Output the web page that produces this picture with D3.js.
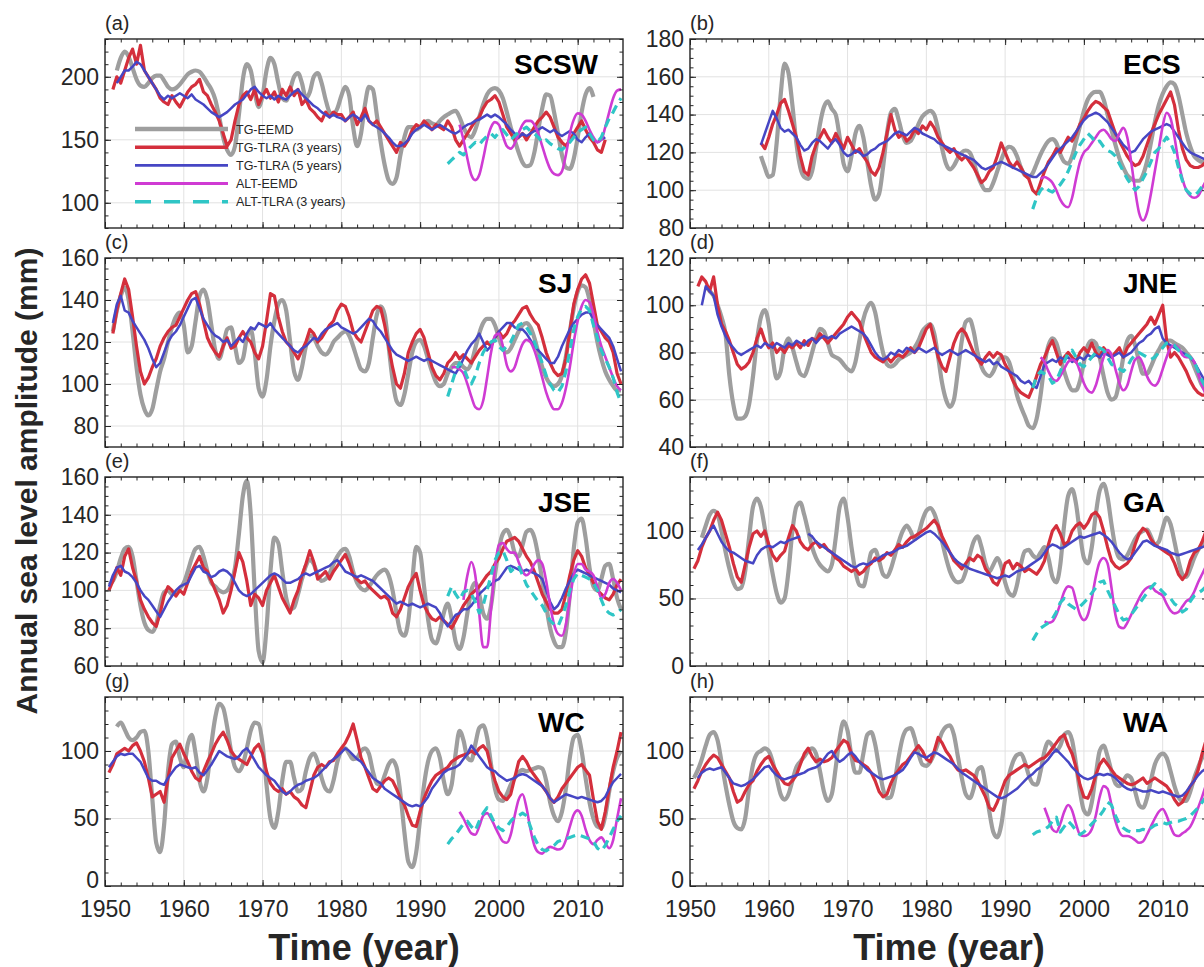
<!DOCTYPE html>
<html>
<head>
<meta charset="utf-8">
<script src="https://cdn.jsdelivr.net/npm/d3@7"></script>
<style>
  body { margin: 0; background: #fff; }
  svg { display: block; font-family: Arial, "Liberation Sans", Helvetica, sans-serif; }
</style>
</head>
<body>
<svg id="chart"></svg>
<script>
// ---- data (half-year steps) ----
var STEP = 0.5;
var regionNames = ['SCSW', 'ECS', 'SJ', 'JNE', 'JSE', 'GA', 'WC', 'WA'];
var panelTags = ['(a)', '(b)', '(c)', '(d)', '(e)', '(f)', '(g)', '(h)'];
var seriesNames = ['TG-EEMD', 'TG-TLRA (3 years)', 'TG-TLRA (5 years)', 'ALT-EEMD', 'ALT-TLRA (3 years)'];
var yearTicks = [1950, 1960, 1970, 1980, 1990, 2000, 2010];
var yDomains = [[80, 230], [80, 180], [70, 160], [40, 120], [60, 160], [0, 140], [0, 140], [0, 140]];
var yTickSets = [
  [100, 150, 200], [80, 100, 120, 140, 160, 180], [80, 100, 120, 140, 160], [40, 60, 80, 100, 120],
  [60, 80, 100, 120, 140, 160], [0, 50, 100], [0, 50, 100], [0, 50, 100]
];
var yMinorSteps = [10, 5, 5, 5, 5, 10, 10, 10];

// (a) SCSW
var scswStart = [1951.5, 1951, 1951.5, 1995, 1993.5];
var scswTgEemd = [
  205,215,220,216,207,198,193,192,195,199, 201,201,197,192,190,191,194,198,202,204,
  205,204,200,195,190,182,168,152,142,138, 145,170,198,210,205,188,176,185,205,215,
  210,195,183,181,190,200,203,195,183,188, 200,203,195,182,172,170,175,185,192,185,
  160,145,155,178,192,190,170,148,130,118, 115,120,138,152,160,160,158,160,163,165,
  163,162,165,168,170,172,173,168,160,154, 152,158,168,178,186,190,191,189,183,172,
  160,150,140,132,129,130,140,158,175,186, 185,172,155,138,128,127,135,152,172,186,
  191,184];
var scswTgTlra3 = [
  190,200,195,205,215,222,210,225,205,200, 195,190,183,180,178,185,180,176,182,188,
  192,194,198,188,185,178,172,165,155,145, 150,165,178,185,188,182,190,178,185,190,
  183,188,180,190,185,192,185,190,178,182, 175,172,168,165,172,168,172,170,170,165,
  168,172,162,168,175,165,162,165,160,155, 150,145,140,148,145,150,158,162,160,165,
  162,158,162,160,158,165,160,150,145,150, 155,160,165,168,175,180,182,185,180,170,
  160,155,150,152,155,150,155,160,165,168, 172,168,160,152,148,145,150,155,160,165,
  158,152,148,142,140,150];
var scswTgTlra5 = [
  195,200,205,205,208,212,210,205,200,195, 190,185,182,185,183,185,187,185,183,186,
  182,180,178,175,172,170,168,170,172,175, 178,180,182,186,190,192,188,185,183,185,
  182,185,183,182,185,188,190,186,183,180, 177,175,172,170,168,170,168,167,165,168,
  170,168,165,170,165,162,160,158,155,152, 148,145,145,147,150,155,158,160,162,160,
  158,160,162,160,158,156,155,157,160,162, 163,165,166,168,170,168,170,168,165,162,
  158,155,152,155,153,155,157,158,160,158, 156,158,155,153,155,157,155,150,148,152,
  155,150,148,150,152];
var scswAltEemd = [
  162,150,135,122,118,122,135,150,160,164, 162,153,145,143,147,155,162,165,165,162,
  155,145,135,127,123,122,125,138,155,166, 171,170,165,158,152,148,150,160,172,183,
  189,190];
var scswAltTlra3 = [
  131,134,137,140,138,142,145,148,146,150, 153,155,152,156,158,154,150,153,156,158,
  160,157,155,152,148,150,147,145,143,142, 145,148,152,156,158,160,155,150,148,152,
  160,167,172,178,183];

// (b) ECS
var ecsStart = [1959, 1959, 1959, 1994.5, 1993.5];
var ecsTgEemd = [
  118,112,107,108,125,150,167,162,145,125, 112,107,106,110,122,135,144,147,143,140,
  128,114,110,118,130,134,128,115,102,95, 98,112,130,141,143,137,129,125,126,130,
  135,139,141,142,140,132,122,114,111,113, 117,120,121,120,115,108,103,100,100,104,
  110,116,121,123,122,118,112,108,107,109, 114,119,123,126,127,125,119,115,114,118,
  126,134,142,148,151,152,152,148,140,132, 124,117,112,108,106,105,105,108,115,125,
  136,145,151,155,157,156,150,140,130,123, 118,116,115,116];
var ecsTgTlra3 = [
  125,122,128,135,140,146,148,142,135,128, 118,110,108,118,124,128,132,128,125,130,
  126,122,128,124,120,122,118,115,110,108, 112,120,130,140,132,128,130,126,128,132,
  130,134,132,136,133,128,125,122,120,122, 118,116,118,115,112,108,104,106,110,112,
  118,125,120,115,112,115,112,108,106,100, 98,104,110,115,118,122,120,124,128,126,
  130,135,138,142,145,147,146,144,142,136, 130,126,122,118,115,113,114,118,124,130,
  135,140,144,148,152,145,132,122,116,113, 112,112,113,115];
var ecsTgTlra5 = [
  124,130,136,142,138,133,131,132,130,128, 124,121,122,125,127,126,124,122,125,127,
  124,120,118,119,121,120,118,119,121,122, 124,125,126,128,130,131,130,129,131,133,
  132,130,129,128,127,125,124,123,122,121, 120,119,118,117,116,114,112,111,112,113,
  114,115,114,113,112,111,110,109,108,107, 107,109,111,114,117,120,122,124,126,128,
  131,134,137,139,140,141,140,138,136,133, 130,127,124,122,120,121,124,127,129,131,
  132,133,134,135,134,131,128,125,122,120, 119,118,117,116];
var ecsAltEemd = [
  106,107,106,104,100,95,92,91,96,106, 115,120,122,125,128,131,132,130,127,126,
  130,133,128,115,100,88,84,88,98,110, 122,134,141,138,128,115,106,100,97,96,
  97,101,105];
var ecsAltTlra3 = [
  90,96,100,102,100,99,101,103,106,110, 115,120,124,127,130,128,125,126,123,121,
  120,118,114,110,106,103,100,102,106,110, 115,120,122,125,128,125,120,112,105,100,
  98,97,99,102,105];

// (c) SJ
var sjStart = [1951, 1951, 1951, 1994, 1993.5];
var sjTgEemd = [
  125,135,142,146,140,125,108,95,88,85, 88,97,106,112,120,127,132,134,128,115,
  118,130,142,145,140,128,116,112,118,126, 127,118,110,112,122,126,115,98,94,102,
  118,130,138,140,135,120,106,102,108,118, 123,122,118,115,114,116,120,122,124,125,
  123,118,112,107,106,110,122,133,137,133, 118,102,92,90,95,105,115,120,121,118,
  112,106,101,99,100,105,108,110,110,108, 107,110,117,124,129,131,131,128,122,117,
  115,117,121,125,128,129,127,122,115,108, 103,100,99,100,104,113,125,136,144,147,
  146,140,130,120,112,106,102,99,97,97];
var sjTgTlra3 = [
  124,135,143,150,145,132,118,106,100,103, 108,112,118,122,125,127,128,132,136,140,
  143,144,138,130,122,118,115,113,118,122, 117,118,122,125,122,120,115,112,118,130,
  143,142,132,125,120,118,115,112,116,120, 126,124,120,122,125,128,130,135,138,137,
  132,125,122,120,125,130,135,137,136,128, 118,108,100,98,105,115,120,124,126,122,
  115,108,104,102,105,110,112,115,112,114, 112,110,113,116,118,120,118,122,125,122,
  124,128,130,133,136,137,133,130,128,122, 115,110,106,104,105,112,125,138,145,150,
  152,148,138,128,125,122,120,115,105,100];
var sjTgTlra5 = [
  129,138,142,135,134,130,127,124,121,117, 112,108,110,115,120,123,125,128,132,136,
  140,141,136,131,128,125,123,122,120,121, 118,120,122,120,124,127,126,129,128,127,
  129,126,124,122,120,118,116,115,117,118, 120,122,121,124,126,127,128,129,127,126,
  125,124,125,127,129,131,130,127,125,122, 119,116,114,113,112,111,112,113,112,111,
  112,111,110,109,108,107,106,105,108,112, 116,119,121,124,120,116,118,122,125,127,
  129,129,127,126,126,124,121,118,116,114, 112,110,110,113,118,122,126,129,131,133,
  134,134,131,128,126,124,122,118,112,106];
var sjAltEemd = [
  108,108,107,105,100,94,89,88,92,103, 115,123,124,118,109,106,108,114,119,121,
  120,116,110,103,96,91,88,88,91,98, 108,120,130,137,140,139,133,125,118,113,
  108,103,99,97];
var sjAltTlra3 = [
  94,100,106,110,108,103,100,104,110,115, 118,120,121,118,116,118,120,124,128,129,
  127,124,120,115,110,104,100,97,96,99, 106,116,126,132,136,137,135,128,122,116,
  112,108,103,96,91];

// (d) JNE
var jneStart = [1952, 1951, 1951.5, 1994.5, 1993.5];
var jneTgEemd = [
  108,106,104,100,95,88,70,58,52,52, 53,58,70,85,95,98,92,78,69,72,
  82,86,82,76,71,70,74,80,86,90, 89,84,79,78,77,75,73,72,76,85,
  94,99,101,97,88,80,75,74,75,77, 78,79,80,82,85,89,91,92,88,78,
  67,60,57,60,72,85,93,94,89,80, 74,71,70,72,76,78,78,76,70,62,
  57,53,49,48,52,62,75,83,86,84, 78,72,67,64,64,68,76,83,85,84,
  78,70,63,60,61,68,78,85,87,83, 76,71,71,74,78,81,84,85,85,84,
  83,82,80,78,74,70,66,64];
var jneTgTlra3 = [
  108,112,110,106,112,100,92,89,85,80, 75,73,74,76,80,86,90,85,82,84,
  80,82,80,83,82,84,82,85,83,86, 85,88,86,84,86,88,90,92,95,97,
  95,93,88,84,80,78,77,76,78,76, 78,79,78,80,82,80,82,86,90,92,
  85,78,74,72,78,84,88,90,88,84, 80,77,75,78,80,78,80,79,75,72,
  68,65,63,62,61,65,70,75,78,82, 85,80,75,78,80,78,76,80,82,80,
  84,80,78,82,80,78,80,82,78,82, 84,86,88,90,92,95,92,96,100,85,
  78,80,78,75,72,68,65,63,62,62];
var jneTgTlra5 = [
  100,108,106,104,96,91,87,84,82,80, 79,80,81,82,83,82,84,83,82,84,
  83,82,84,83,85,84,83,85,86,84, 86,87,86,87,86,88,89,90,91,90,
  89,88,86,83,80,78,77,78,80,79, 81,80,82,81,80,82,81,80,81,82,
  80,79,80,81,80,79,80,81,80,79, 78,77,76,77,75,76,74,73,72,71,
  70,68,67,68,66,65,70,75,76,77, 76,78,77,78,76,77,78,77,79,78,
  79,78,80,79,78,79,80,78,79,80, 82,84,85,87,88,90,91,86,84,83,
  82,81,80,79,78,76,73,70,67];
var jneAltEemd = [
  78,76,72,69,68,70,73,76,77,76, 72,67,64,63,66,72,78,81,79,73,
  67,64,66,72,77,78,75,70,67,66, 68,73,78,82,83,82,79,78,78,76,
  71,66,62];
var jneAltTlra3 = [
  65,70,72,71,70,67,68,72,76,80, 81,78,75,74,76,78,80,82,81,78,
  75,74,73,72,74,77,79,80,79,78, 77,78,80,82,84,84,83,81,80,79,
  78,76,72,68,65];

// (e) JSE
var jseStart = [1950.5, 1950.5, 1950.5, 1995.5, 1993.5];
var jseTgEemd = [
  103,105,110,117,122,123,118,105,92,83, 79,78,82,92,99,100,98,99,101,104,
  110,117,122,123,118,110,104,102,100,99, 100,104,112,130,150,158,140,100,68,62,
  80,110,128,125,110,96,90,91,98,106, 113,116,114,108,105,106,109,114,118,121,
  122,118,110,104,101,100,102,105,108,110, 111,108,100,88,78,76,84,105,123,120,
  102,85,74,72,78,88,93,85,73,69, 75,88,100,104,98,88,85,92,108,122,
  130,132,128,120,118,124,131,132,128,118, 105,92,80,73,70,70,78,98,122,136,
  138,128,112,102,100,106,113,114,106,96,90];
var jseTgTlra3 = [
  100,105,112,108,118,122,112,105,95,90, 86,83,81,88,97,102,100,97,100,98,
  104,110,114,118,112,110,105,100,95,88, 92,100,110,120,115,105,92,98,96,92,
  100,104,108,102,96,92,88,95,100,108, 114,121,115,106,108,110,106,110,113,116,
  119,114,108,106,104,105,102,100,98,96, 97,95,88,86,90,96,102,106,109,100,
  92,88,85,84,86,84,82,80,84,88, 92,95,98,100,102,105,108,110,114,117,
  122,126,127,128,126,122,118,115,110,104, 98,94,90,88,88,90,98,108,116,121,
  118,112,108,104,100,98,96,95,98,103,106];
var jseTgTlra5 = [
  102,108,112,113,110,109,107,104,100,97, 95,92,89,86,90,94,97,100,102,103,
  104,108,112,113,110,109,107,108,110,111, 110,108,104,100,98,97,98,100,102,104,
  106,108,109,108,106,104,104,105,106,108, 109,108,109,110,111,112,113,115,116,113,
  110,109,108,107,108,107,106,105,103,101, 99,97,95,93,94,93,92,93,92,91,
  92,93,92,91,88,84,81,84,87,88, 90,90,92,95,98,100,102,103,105,106,
  109,112,113,112,111,110,111,110,109,108, 106,100,94,90,92,96,101,105,109,111,
  110,109,108,107,106,105,104,103,101,100,99];
var jseAltEemd = [
  95,108,115,108,88,70,70,90,112,124, 125,122,120,120,115,110,108,110,114,116,
  114,105,92,82,77,76,82,95,108,114, 114,111,110,108,102,96,98,104,106,104,100];
var jseAltTlra3 = [
  97,102,98,95,99,100,98,94,88,92, 100,108,116,120,121,116,110,112,113,108,
  103,100,97,94,92,88,84,82,81,86, 92,100,106,109,108,107,106,104,100,95,
  90,88,87,88,90];

// (f) GA
var gaStart = [1951.5, 1950.5, 1951, 1995, 1993.5];
var gaTgEemd = [
  95,104,112,115,112,100,85,72,62,57, 58,70,95,118,124,118,102,85,68,54,
  47,50,70,100,118,121,112,100,88,80, 75,72,70,75,95,118,124,110,88,70,
  60,59,70,84,86,78,68,66,72,82, 92,100,104,100,94,98,108,115,117,113,
  104,92,80,70,64,62,63,70,82,92, 96,88,76,70,75,80,74,62,54,52,
  60,75,85,86,82,80,84,88,80,66, 62,75,105,126,131,120,98,80,76,88,
  112,130,135,125,105,88,80,79,82,88, 94,98,100,101,96,90,92,102,110,105,
  92,78,68,66,72,80,86,90,94];
var gaTgTlra3 = [
  72,78,88,95,100,108,114,108,98,88, 76,66,62,75,88,98,100,96,100,90,
  82,78,82,85,95,104,100,92,88,86, 90,92,88,90,86,84,80,78,74,72,
  70,72,68,70,74,76,80,78,80,84, 82,86,90,88,92,95,96,98,100,102,
  105,108,104,96,90,84,78,75,72,76, 80,78,82,80,72,68,62,60,66,76,
  78,72,76,74,70,72,70,68,72,78, 90,100,104,98,90,92,100,104,106,102,
  106,112,114,110,100,88,78,74,72,74, 76,80,90,98,102,100,94,90,88,86,
  84,82,76,68,64,68,78,84,86,92,100];
var gaTgTlra5 = [
  86,90,95,100,104,98,92,88,85,84, 82,80,78,77,76,82,86,88,89,88,
  90,92,91,93,94,95,96,null,98,96, 92,90,88,86,84,82,80,78,76,74,
  73,75,76,75,77,78,80,82,83,84, 85,87,88,89,91,93,95,97,99,100,
  98,95,92,88,84,80,77,75,74,72, 71,70,69,68,67,66,65,66,67,66,
  68,70,71,72,74,76,78,80,84,88, 90,89,87,88,90,92,94,96,95,96,
  97,98,99,97,95,92,88,84,81,79, 80,84,88,92,93,91,89,88,87,86,
  84,83,82,83,84,85,86,87,88,89];
var gaAltEemd = [
  33,32,33,38,46,55,59,58,48,38, 34,38,50,66,77,80,76,58,38,29,
  28,32,38,44,50,55,58,59,56,54, 52,46,41,39,40,44,48,50,55,62,
  68,74];
var gaAltTlra3 = [
  19,24,28,30,32,35,40,47,50,46, 44,42,44,47,50,54,58,62,63,56,
  50,44,38,34,35,38,42,46,50,54, 58,61,58,55,52,50,46,44,40,42,
  48,52,54,56,59];

// (g) WC
var wcStart = [1951.5, 1950.5, 1950.5, 1995, 1993.5];
var wcTgEemd = [
  118,121,116,110,108,110,114,115,100,65, 32,25,45,85,105,107,95,88,105,112,
  98,78,70,80,105,125,135,132,118,100, 88,85,90,102,115,121,120,105,75,50,
  43,55,78,92,92,80,70,72,85,95, 98,92,80,72,70,78,92,100,102,98,
  94,95,100,102,98,85,76,75,82,90, 93,88,68,40,18,14,25,50,75,92,
  100,102,95,78,68,75,98,115,108,95, 93,105,117,119,110,90,72,64,63,68,
  75,80,84,86,85,86,87,88,87,78, 62,52,48,55,72,95,110,112,100,80,
  62,50,44,43,52,70,85,95,100];
var wcTgTlra3 = [
  84,90,98,100,102,100,104,106,100,92, 80,66,68,70,62,80,95,100,105,98,
  92,85,80,78,85,92,98,105,110,114, 108,100,96,94,92,90,96,102,105,98,
  85,76,72,70,72,68,70,66,64,60, 58,70,82,88,90,88,92,93,98,102,
  106,112,120,108,95,88,80,72,70,74, 78,80,78,72,65,60,52,45,44,55,
  65,72,78,82,84,86,88,92,94,96, 97,98,100,98,102,104,100,88,78,70,
  66,64,68,80,92,96,92,86,82,78, 74,70,65,62,66,72,76,80,84,88,
  90,86,82,64,48,42,55,72,88,100,114];
var wcTgTlra5 = [
  88,92,96,98,97,98,98,95,92,86, 80,78,78,76,75,80,84,88,90,89,
  88,87,88,84,82,86,90,95,100,98, 96,95,94,96,100,102,98,93,88,85,
  82,80,78,74,70,68,70,73,75,76, 78,79,80,82,85,88,91,94,96,99,
  102,100,97,94,92,88,84,80,78,76, 72,70,68,66,64,62,60,59,60,59,
  62,66,72,76,80,84,86,87,88,90, 94,98,104,100,96,92,88,86,85,82,
  80,78,79,80,82,83,82,80,78,76, 74,70,65,62,64,66,68,67,66,65,
  66,65,64,63,62,63,66,72,77,80,83];
var wcAltEemd = [
  55,50,44,39,38,44,52,54,50,44, 38,33,32,38,52,64,68,58,42,30,
  25,24,27,29,28,27,28,34,44,53, 56,52,42,34,31,34,36,32,28,34,
  50,65];
var wcAltTlra3 = [
  31,35,38,42,46,48,44,41,48,54, 58,52,46,43,41,44,48,51,52,54,
  52,44,36,30,27,26,28,30,33,34, 35,36,37,38,37,36,35,33,28,26,
  30,36,42,48,52];

// (h) WA
var waStart = [1950.5, 1950.5, 1951, 1995, 1993.5];
var waTgEemd = [
  80,86,94,104,112,114,108,92,75,60, 48,43,42,50,72,90,98,100,102,100,
  92,80,68,64,68,78,88,92,96,100, 102,98,85,70,63,68,88,110,122,115,
  96,84,84,98,112,114,105,88,72,65, 66,78,96,110,116,117,110,98,90,89,
  92,98,106,114,118,119,112,96,80,68, 65,72,86,88,75,55,40,36,45,65,
  82,92,97,98,92,82,76,75,85,100, 107,104,100,104,112,114,108,90,70,56,
  53,62,82,100,104,96,85,76,74,78, 82,80,70,60,58,65,78,90,96,98,
  95,85,74,66,63,63,70,80,88,95,100];
var waTgTlra3 = [
  72,78,85,90,94,97,95,90,85,80, 70,62,64,70,75,78,85,90,94,96,
  90,85,80,76,75,78,82,90,98,102, 96,92,94,92,93,95,100,104,108,106,
  98,93,92,90,88,84,78,70,66,68, 76,82,86,90,92,96,100,104,100,94,
  92,100,110,106,100,96,90,86,85,86, 84,82,78,72,66,58,56,62,70,78,
  82,84,86,88,90,88,90,92,94,95, 98,102,106,110,112,104,98,88,75,66,
  65,72,82,90,94,90,86,82,80,78, 76,75,76,78,80,76,78,80,78,76,
  74,70,64,60,62,68,74,78,86,98,108];
var waTgTlra5 = [
  80,84,86,87,86,87,88,84,80,76, 75,74,75,77,79,82,85,88,89,85,
  82,80,79,80,81,82,83,84,86,87, 88,90,94,98,100,95,92,94,97,99,
  96,92,89,86,84,82,80,79,80,81, 82,84,86,90,95,99,98,96,95,97,
  99,98,96,94,92,90,87,84,82,80, 78,76,74,72,70,68,66,65,66,68,
  70,72,75,78,81,83,86,88,91,94, 98,101,98,95,92,88,85,82,80,79,
  80,82,83,82,83,82,80,77,74,72, 71,72,71,70,70,71,70,69,70,69,
  68,67,66,67,70,74,78,82,85,87];
var waAltEemd = [
  58,50,42,40,46,55,60,56,46,38, 37,38,42,52,66,74,72,60,48,40,
  37,37,36,34,32,33,38,44,50,55, 57,52,44,38,37,39,41,44,50,58,
  66,75];
var waAltTlra3 = [
  38,40,41,42,44,48,51,40,44,48, 45,41,38,40,43,46,49,52,56,62,
  60,52,46,43,41,40,41,41,42,41, 43,45,46,47,46,47,48,48,49,50,
  52,55,58,62,66];

var panelSeries = [
  [scswTgEemd, scswTgTlra3, scswTgTlra5, scswAltEemd, scswAltTlra3],
  [ecsTgEemd, ecsTgTlra3, ecsTgTlra5, ecsAltEemd, ecsAltTlra3],
  [sjTgEemd, sjTgTlra3, sjTgTlra5, sjAltEemd, sjAltTlra3],
  [jneTgEemd, jneTgTlra3, jneTgTlra5, jneAltEemd, jneAltTlra3],
  [jseTgEemd, jseTgTlra3, jseTgTlra5, jseAltEemd, jseAltTlra3],
  [gaTgEemd, gaTgTlra3, gaTgTlra5, gaAltEemd, gaAltTlra3],
  [wcTgEemd, wcTgTlra3, wcTgTlra5, wcAltEemd, wcAltTlra3],
  [waTgEemd, waTgTlra3, waTgTlra5, waAltEemd, waAltTlra3]
];
var panelStarts = [scswStart, ecsStart, sjStart, jneStart, jseStart, gaStart, wcStart, waStart];

// ---- styles / layout ----
var colors = ['#9e9e9e', '#d42f3c', '#4646c4', '#cf3bd3', '#2fc6c6'];
var widths = [4.2, 3.2, 2.5, 2.6, 3.2];
var dashes = [null, null, null, null, '9,6'];
var smooth = [true, false, false, true, false];
var ink = '#262626';

var config = { width: 1204, height: 967, plotW: 518, plotH: 189 };
var colLeft = [105, 690];
var rowTop = [39, 258, 477, 697];

var svg = d3.select('#chart').attr('width', config.width).attr('height', config.height);

var x = d3.scaleLinear().domain([1950, 2015.75]).range([0, config.plotW]);
var minorYears = d3.range(1950, 2016, 2);

panelSeries.forEach(function(seriesList, p) {
  var col = p % 2, row = Math.floor(p / 2);
  var g = svg.append('g').attr('transform', 'translate(' + colLeft[col] + ',' + rowTop[row] + ')');
  var y = d3.scaleLinear().domain(yDomains[p]).range([config.plotH, 0]);
  var yMinor = d3.range(yDomains[p][0], yDomains[p][1] + 0.001, yMinorSteps[p]);
  var isBottom = row === 3;

  // grid
  g.append('g').selectAll('line').data(yearTicks).enter().append('line')
    .attr('x1', function(d) { return x(d); }).attr('x2', function(d) { return x(d); })
    .attr('y1', 0).attr('y2', config.plotH)
    .attr('stroke', '#e2e2e2').attr('stroke-width', 1);
  g.append('g').selectAll('line').data(yTickSets[p]).enter().append('line')
    .attr('x1', 0).attr('x2', config.plotW)
    .attr('y1', function(d) { return y(d); }).attr('y2', function(d) { return y(d); })
    .attr('stroke', '#e2e2e2').attr('stroke-width', 1);

  // clip
  var clipId = 'clip' + p;
  g.append('clipPath').attr('id', clipId).append('rect')
    .attr('width', config.plotW).attr('height', config.plotH);

  var lines = g.append('g').attr('clip-path', 'url(#' + clipId + ')');
  seriesList.forEach(function(values, s) {
    var start = panelStarts[p][s];
    var pts = values.map(function(v, i) { return { year: start + i * STEP, value: v }; });
    var line = d3.line()
      .defined(function(d) { return d.value !== null; })
      .x(function(d) { return x(d.year); })
      .y(function(d) { return y(d.value); })
      .curve(smooth[s] ? d3.curveMonotoneX : d3.curveLinear);
    lines.append('path').datum(pts)
      .attr('d', line)
      .attr('fill', 'none')
      .attr('stroke', colors[s])
      .attr('stroke-width', widths[s])
      .attr('stroke-linejoin', 'round')
      .attr('stroke-dasharray', dashes[s]);
  });

  // axes: inward ticks on all four sides
  var bottomAxis = d3.axisBottom(x).tickValues(yearTicks).tickSizeInner(-6).tickSizeOuter(0).tickPadding(15)
    .tickFormat(isBottom ? d3.format('d') : function() { return ''; });
  var gb = g.append('g').attr('transform', 'translate(0,' + config.plotH + ')').call(bottomAxis);
  g.append('g').attr('transform', 'translate(0,' + config.plotH + ')')
    .call(d3.axisBottom(x).tickValues(minorYears).tickSizeInner(-3.5).tickSizeOuter(0).tickFormat(''));
  g.append('g').call(d3.axisTop(x).tickValues(yearTicks).tickSizeInner(-6).tickSizeOuter(0).tickFormat(''));
  g.append('g').call(d3.axisTop(x).tickValues(minorYears).tickSizeInner(-3.5).tickSizeOuter(0).tickFormat(''));

  var gl = g.append('g').call(d3.axisLeft(y).tickValues(yTickSets[p]).tickSizeInner(-6).tickSizeOuter(0).tickPadding(6));
  g.append('g').call(d3.axisLeft(y).tickValues(yMinor).tickSizeInner(-3.5).tickSizeOuter(0).tickFormat(''));
  g.append('g').attr('transform', 'translate(' + config.plotW + ',0)')
    .call(d3.axisRight(y).tickValues(yTickSets[p]).tickSizeInner(-6).tickSizeOuter(0).tickFormat(''));
  g.append('g').attr('transform', 'translate(' + config.plotW + ',0)')
    .call(d3.axisRight(y).tickValues(yMinor).tickSizeInner(-3.5).tickSizeOuter(0).tickFormat(''));

  g.selectAll('.domain').remove();
  g.selectAll('.tick line').attr('stroke', ink);
  gl.selectAll('text').attr('font-size', 23).attr('fill', ink)
    .attr('dy', function(d) { return isBottom && d === 0 ? '0.08em' : '0.32em'; });
  gb.selectAll('text').attr('font-size', 23).attr('fill', ink);

  // frame
  g.append('rect').attr('width', config.plotW).attr('height', config.plotH)
    .attr('fill', 'none').attr('stroke', ink).attr('stroke-width', 1.4);

  // labels
  g.append('text').attr('x', 0).attr('y', -9).text(panelTags[p])
    .attr('font-size', 20).attr('fill', ink);
  g.append('text').attr('x', p === 0 ? 409 : 433).attr('y', 35).text(regionNames[p])
    .attr('font-size', 28).attr('font-weight', 'bold').attr('fill', '#000');

  // legend only in (a)
  if (p === 0) {
    var lg = g.append('g').attr('transform', 'translate(30,90)');
    seriesNames.forEach(function(name, s) {
      var yy = s * 18.2;
      lg.append('line').attr('x1', 0).attr('x2', 93).attr('y1', yy).attr('y2', yy)
        .attr('stroke', colors[s]).attr('stroke-width', widths[s] + 0.4)
        .attr('stroke-dasharray', s === 4 ? '16,13' : null);
      lg.append('text').attr('x', 101).attr('y', yy).attr('dy', '0.36em')
        .attr('font-size', 12.5).attr('fill', ink).text(name);
    });
  }
});

// axis titles
svg.append('text')
  .attr('transform', 'translate(37,481) rotate(-90)')
  .attr('text-anchor', 'middle').attr('font-size', 30).attr('font-weight', 'bold').attr('fill', ink)
  .text('Annual sea level amplitude (mm)');
[0, 1].forEach(function(c) {
  svg.append('text')
    .attr('x', colLeft[c] + config.plotW / 2).attr('y', 960)
    .attr('text-anchor', 'middle').attr('font-size', 36).attr('font-weight', 'bold').attr('fill', ink)
    .text('Time (year)');
});
</script>
</body>
</html>
